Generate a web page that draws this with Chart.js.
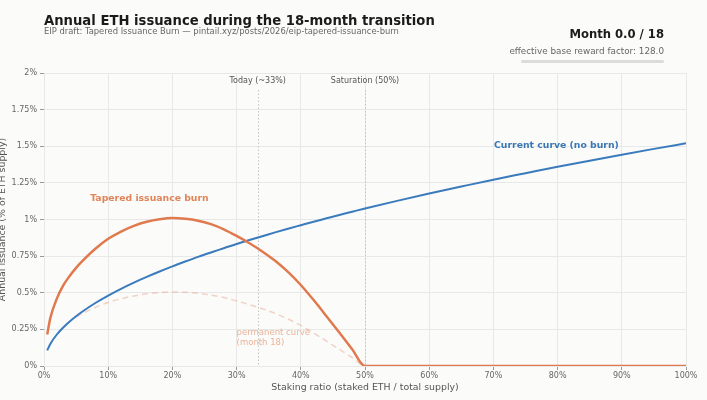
<!DOCTYPE html>
<html>
<head>
<meta charset="utf-8">
<script src="https://cdn.jsdelivr.net/npm/chart.js@4.4.1/dist/chart.umd.min.js"></script>
<style>
  html, body { margin: 0; padding: 0; background: #fbfbf9; }
  #wrap { position: relative; width: 707px; height: 400px; overflow: hidden; }
  #chart { position: absolute; left: 0; top: 0; }
  .txt { position: absolute; white-space: nowrap; line-height: 1; font-family: "DejaVu Sans", sans-serif; }
  #title { left: 44px; top: 13.8px; font-size: 13.2px; font-weight: bold; color: #1b1b1b; }
  #subtitle { left: 44px; top: 26.8px; font-size: 8.4px; color: #666; }
  #month { right: 43px; top: 29.2px; font-size: 11.6px; font-weight: bold; color: #1b1b1b; }
  #factor { right: 43px; top: 47.3px; font-size: 8.8px; color: #666; }
  #bar { position: absolute; left: 521px; top: 60px; width: 143px; height: 3px; border-radius: 2px; background: #dcdcdc; }
</style>
</head>
<body>
<div id="wrap">
  <canvas id="chart" width="707" height="400"></canvas>
  <div class="txt" id="title">Annual ETH issuance during the 18-month transition</div>
  <div class="txt" id="subtitle">EIP draft: Tapered Issuance Burn — pintail.xyz/posts/2026/eip-tapered-issuance-burn</div>
  <div class="txt" id="month">Month 0.0 / 18</div>
  <div class="txt" id="factor">effective base reward factor: 128.0</div>
  <div id="bar"></div>
</div>
<script>
// Staking ratio samples (% of total supply)
const ratio = [0.5, 1, 2, 3, 4, 5, 6, 8, 10, 12, 14, 16, 18, 20, 22, 24, 26, 28, 30,
    32, 34, 36, 38, 40, 42, 44, 46, 48, 50, 55, 60, 65, 70, 75, 80, 85, 90, 95, 100];

// Annual issuance, % of ETH supply
const currentCurve = [0.107, 0.152, 0.215, 0.263, 0.304, 0.340, 0.372, 0.430, 0.481, 0.527, 0.569, 0.608, 0.645, 0.680, 0.713, 0.745, 0.775, 0.804, 0.833,
    0.860, 0.886, 0.912, 0.937, 0.961, 0.985, 1.008, 1.031, 1.053, 1.075, 1.127, 1.177, 1.225, 1.272, 1.316, 1.360, 1.401, 1.442, 1.482, 1.520];
const taperedBurn = [0.215, 0.33, 0.46, 0.55, 0.615, 0.67, 0.717, 0.80, 0.868, 0.918, 0.957, 0.985, 1.002, 1.01, 1.005, 0.992, 0.968, 0.933, 0.888,
    0.838, 0.782, 0.718, 0.642, 0.553, 0.45, 0.34, 0.228, 0.115, 0, 0, 0, 0, 0, 0, 0, 0, 0, 0, 0];
const permanentCurve = [null, null, null, null, null, 0.335, 0.358, 0.40, 0.434, 0.459, 0.478, 0.493, 0.501, 0.505, 0.503, 0.496, 0.484, 0.467, 0.444,
    0.419, 0.391, 0.359, 0.321, 0.277, 0.225, 0.17, 0.114, 0.058, 0, 0, 0, 0, 0, 0, 0, 0, 0, 0, 0];

const xTicks = [0, 10, 20, 30, 40, 50, 60, 70, 80, 90, 100];
const yTicks = [0, 0.25, 0.5, 0.75, 1, 1.25, 1.5, 1.75, 2];

// Vertical reference markers
const markerValues = [33.3, 50];
const markerLabels = ['Today (~33%)', 'Saturation (50%)'];

const FONT = '"DejaVu Sans", sans-serif';

function toPoints(values) {
    return ratio.map((r, i) => ({ x: r, y: values[i] }));
}

// Dotted markers behind the lines, text labels on top
const annotations = {
    id: 'annotations',
    beforeDatasetsDraw(chart) {
        const { ctx, chartArea, scales } = chart;
        ctx.save();
        ctx.strokeStyle = '#c4c4c4';
        ctx.lineWidth = 1;
        ctx.setLineDash([1.5, 2]);
        markerValues.forEach(v => {
            const x = Math.round(scales.x.getPixelForValue(v)) + 0.5;
            ctx.beginPath();
            ctx.moveTo(x, chartArea.top + 17);
            ctx.lineTo(x, chartArea.bottom);
            ctx.stroke();
        });
        ctx.restore();
    },
    afterDatasetsDraw(chart) {
        const { ctx, chartArea, scales } = chart;
        ctx.save();
        ctx.textBaseline = 'middle';

        ctx.font = '8px ' + FONT;
        ctx.fillStyle = '#555';
        ctx.textAlign = 'center';
        markerValues.forEach((v, i) => {
            ctx.fillText(markerLabels[i], scales.x.getPixelForValue(v), chartArea.top + 8);
        });

        ctx.textAlign = 'left';
        ctx.font = 'bold 9.3px ' + FONT;
        ctx.fillStyle = '#3a78b4';
        ctx.fillText('Current curve (no burn)', scales.x.getPixelForValue(70.1), scales.y.getPixelForValue(1.505));
        ctx.fillStyle = '#e0845a';
        ctx.fillText('Tapered issuance burn', scales.x.getPixelForValue(7.2), scales.y.getPixelForValue(1.143));

        ctx.font = '8.5px ' + FONT;
        ctx.fillStyle = '#eab399';
        ctx.fillText('permanent curve', scales.x.getPixelForValue(30.0), scales.y.getPixelForValue(0.225));
        ctx.fillText('(month 18)', scales.x.getPixelForValue(30.0), scales.y.getPixelForValue(0.157));
        ctx.restore();
    }
};

new Chart(document.getElementById('chart'), {
    type: 'line',
    data: {
        datasets: [
            {
                label: 'Tapered issuance burn',
                data: toPoints(taperedBurn),
                borderColor: '#e07a4e',
                borderWidth: 2.5,
                pointRadius: 0,
                cubicInterpolationMode: 'monotone'
            },
            {
                label: 'Current curve (no burn)',
                data: toPoints(currentCurve),
                borderColor: '#3a7bbd',
                borderWidth: 2,
                pointRadius: 0,
                cubicInterpolationMode: 'monotone'
            },
            {
                label: 'permanent curve (month 18)',
                data: toPoints(permanentCurve),
                borderColor: 'rgba(228, 150, 125, 0.4)',
                borderWidth: 1.5,
                borderDash: [6, 4],
                pointRadius: 0,
                spanGaps: false,
                cubicInterpolationMode: 'monotone'
            }
        ]
    },
    options: {
        responsive: false,
        animation: false,
        layout: { padding: { left: 0, right: 21, top: 73, bottom: 0 } },
        plugins: {
            legend: { display: false },
            tooltip: { enabled: false }
        },
        scales: {
            x: {
                type: 'linear',
                min: 0,
                max: 100,
                afterBuildTicks: scale => { scale.ticks = xTicks.map(v => ({ value: v })); },
                afterFit: scale => { scale.height = 34; },
                ticks: {
                    callback: v => v + '%',
                    color: '#666',
                    padding: 1,
                    maxRotation: 0,
                    font: { family: FONT, size: 8 }
                },
                grid: { color: '#e8e8e8', tickLength: 4, tickColor: '#999' },
                border: { color: '#e8e8e8' },
                title: {
                    display: true,
                    text: 'Staking ratio (staked ETH / total supply)',
                    color: '#555',
                    padding: { top: 0, bottom: 7 },
                    font: { family: FONT, size: 9.4 }
                }
            },
            y: {
                min: 0,
                max: 2,
                afterBuildTicks: scale => { scale.ticks = yTicks.map(v => ({ value: v })); },
                afterFit: scale => { scale.width = 44; },
                ticks: {
                    callback: v => v + '%',
                    color: '#666',
                    padding: 3,
                    font: { family: FONT, size: 8 }
                },
                grid: { color: '#e8e8e8', tickLength: 4, tickColor: '#999' },
                border: { color: '#e8e8e8' },
                title: {
                    display: true,
                    text: 'Annual issuance (% of ETH supply)',
                    color: '#555',
                    padding: { top: -3, bottom: 0 },
                    font: { family: FONT, size: 9.4 }
                }
            }
        }
    },
    plugins: [annotations]
});
</script>
</body>
</html>
